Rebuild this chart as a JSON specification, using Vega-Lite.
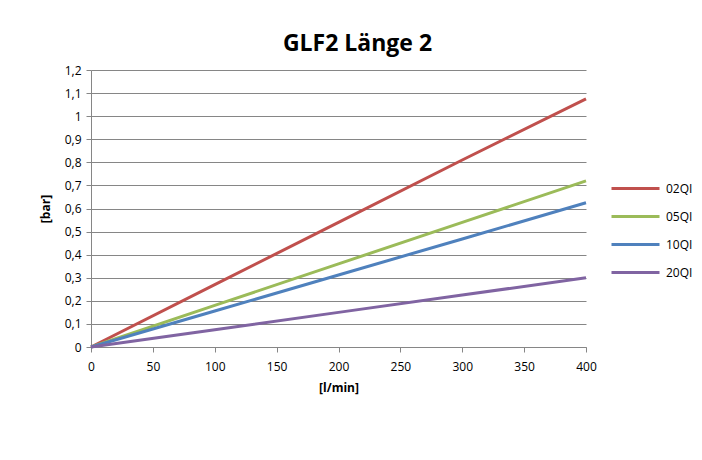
{
  "$schema": "https://vega.github.io/schema/vega-lite/v6.json",
  "autosize": "none",
  "width": 495,
  "height": 277,
  "padding": {"left": 91, "top": 70, "right": 116, "bottom": 113},
  "background": "white",
  "title": {
    "text": "GLF2 Länge 2",
    "font": "Open Sans",
    "fontSize": 23,
    "fontWeight": "bold",
    "color": "#000000",
    "anchor": "middle",
    "dx": 19,
    "offset": 8
  },
  "data": {
    "values": [
      {"flow": 0, "p": 0, "series": "02QI"},
      {"flow": 100, "p": 0.27, "series": "02QI"},
      {"flow": 200, "p": 0.54, "series": "02QI"},
      {"flow": 300, "p": 0.81, "series": "02QI"},
      {"flow": 400, "p": 1.075, "series": "02QI"},
      {"flow": 0, "p": 0, "series": "05QI"},
      {"flow": 100, "p": 0.18, "series": "05QI"},
      {"flow": 200, "p": 0.36, "series": "05QI"},
      {"flow": 300, "p": 0.54, "series": "05QI"},
      {"flow": 400, "p": 0.72, "series": "05QI"},
      {"flow": 0, "p": 0, "series": "10QI"},
      {"flow": 100, "p": 0.156, "series": "10QI"},
      {"flow": 200, "p": 0.312, "series": "10QI"},
      {"flow": 300, "p": 0.468, "series": "10QI"},
      {"flow": 400, "p": 0.625, "series": "10QI"},
      {"flow": 0, "p": 0, "series": "20QI"},
      {"flow": 100, "p": 0.075, "series": "20QI"},
      {"flow": 200, "p": 0.15, "series": "20QI"},
      {"flow": 300, "p": 0.225, "series": "20QI"},
      {"flow": 400, "p": 0.3, "series": "20QI"}
    ]
  },
  "mark": {"type": "line", "strokeWidth": 3},
  "encoding": {
    "x": {
      "field": "flow",
      "type": "quantitative",
      "scale": {"domain": [0, 400], "nice": false, "zero": true},
      "axis": {
        "title": "[l/min]",
        "values": [0, 50, 100, 150, 200, 250, 300, 350, 400],
        "grid": false,
        "labelFlush": false,
        "domainColor": "#868686",
        "tickColor": "#868686",
        "tickSize": 5,
        "labelFont": "Open Sans",
        "labelFontSize": 12,
        "labelColor": "#000000",
        "labelPadding": 9,
        "titleFont": "Open Sans",
        "titleFontSize": 12,
        "titleFontWeight": "bold",
        "titleColor": "#000000",
        "titlePadding": 10
      }
    },
    "y": {
      "field": "p",
      "type": "quantitative",
      "scale": {"domain": [0, 1.2], "nice": false},
      "axis": {
        "title": "[bar]",
        "values": [0, 0.1, 0.2, 0.3, 0.4, 0.5, 0.6, 0.7, 0.8, 0.9, 1, 1.1, 1.2],
        "labelExpr": "replace(format(datum.value, '~g'), '.', ',')",
        "grid": true,
        "gridColor": "#868686",
        "gridWidth": 1,
        "domainColor": "#868686",
        "tickColor": "#868686",
        "tickSize": 5,
        "labelFont": "Open Sans",
        "labelFontSize": 12,
        "labelColor": "#000000",
        "labelPadding": 5,
        "titleFont": "Open Sans",
        "titleFontSize": 12,
        "titleFontWeight": "bold",
        "titleColor": "#000000",
        "titlePadding": 12
      }
    },
    "color": {
      "field": "series",
      "type": "nominal",
      "scale": {
        "domain": ["02QI", "05QI", "10QI", "20QI"],
        "range": ["#C0504D", "#9BBB59", "#4F81BD", "#8064A2"]
      },
      "legend": {
        "title": null,
        "orient": "none",
        "legendX": 528,
        "legendY": 102,
        "symbolType": "M-1.6,0H1.6",
        "symbolSize": 900,
        "symbolStrokeWidth": 3,
        "symbolOffset": 0,
        "labelOffset": 14,
        "rowPadding": 5,
        "labelFont": "Open Sans",
        "labelFontSize": 12,
        "labelColor": "#000000"
      }
    }
  },
  "config": {
    "view": {"stroke": null}
  }
}
